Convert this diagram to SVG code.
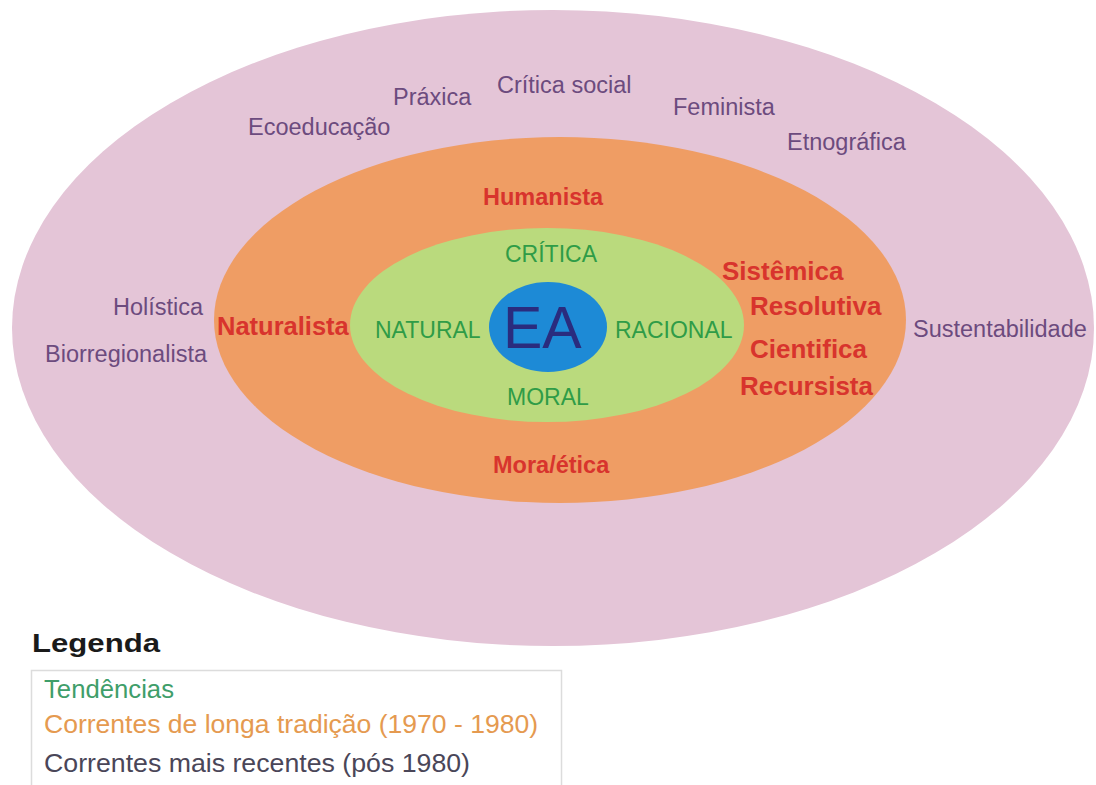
<svg xmlns="http://www.w3.org/2000/svg" width="1096" height="785" viewBox="0 0 1096 785">
  <style>
    text { font-family: "Liberation Sans", Arial, Helvetica, sans-serif; }
    .recent { fill: #6c4b7e; font-size: 23.5px; }
    .long { fill: #d8342d; font-weight: bold; }
    .trend { fill: #2f9c47; font-size: 23px; }
    .core { fill: #2a2c7e; font-size: 59px; }
    .legend-title { fill: #1a1a1a; font-size: 26px; font-weight: bold; }
    .legend-item { font-size: 25px; }
  </style>

  <rect width="1096" height="785" fill="#ffffff"/>

  <!-- concentric rings -->
  <g id="ring-recent">
    <ellipse cx="553" cy="328" rx="541" ry="318" fill="#e4c5d7"/>
  </g>
  <g id="ring-long">
    <ellipse cx="560" cy="320" rx="346" ry="183" fill="#ef9d64"/>
  </g>
  <g id="ring-trends">
    <ellipse cx="547" cy="325" rx="197" ry="97" fill="#bada7d"/>
  </g>
  <g id="node-EA">
    <ellipse cx="548" cy="327" rx="59" ry="45" fill="#1d8ad6"/>
    <text class="core" x="503" y="348">EA</text>
  </g>

  <!-- more recent currents (after 1980) -->
  <g id="recent-labels">
    <text class="recent" x="248" y="135">Ecoeducação</text>
    <text class="recent" x="393" y="105">Práxica</text>
    <text class="recent" x="497" y="93">Crítica social</text>
    <text class="recent" x="673" y="115">Feminista</text>
    <text class="recent" x="787" y="150">Etnográfica</text>
    <text class="recent" x="113" y="315">Holística</text>
    <text class="recent" x="45" y="362">Biorregionalista</text>
    <text class="recent" x="913" y="337">Sustentabilidade</text>
  </g>

  <!-- long-tradition currents (1970 - 1980) -->
  <g id="long-labels">
    <text class="long" x="483" y="205" font-size="23.5">Humanista</text>
    <text class="long" x="217" y="335" font-size="25.5">Naturalista</text>
    <text class="long" x="722" y="280" font-size="26">Sistêmica</text>
    <text class="long" x="750" y="315" font-size="26">Resolutiva</text>
    <text class="long" x="750" y="358" font-size="26">Cientifica</text>
    <text class="long" x="740" y="395" font-size="26">Recursista</text>
    <text class="long" x="493" y="473" font-size="23.5">Mora/ética</text>
  </g>

  <!-- trends -->
  <g id="trend-labels">
    <text class="trend" x="505" y="262">CRÍTICA</text>
    <text class="trend" x="375" y="338">NATURAL</text>
    <text class="trend" x="615" y="338">RACIONAL</text>
    <text class="trend" x="507" y="405">MORAL</text>
  </g>

  <!-- connectors: none in this figure -->
  <g id="connectors"/>

  <!-- legend -->
  <g id="legend">
    <text class="legend-title" x="32" y="652" textLength="128" lengthAdjust="spacingAndGlyphs">Legenda</text>
    <rect x="31.5" y="670.5" width="530" height="130" fill="#ffffff" stroke="#dcdcdc" stroke-width="1.5"/>
    <text class="legend-item" x="44" y="698" fill="#3f9e6a" textLength="130" lengthAdjust="spacingAndGlyphs">Tendências</text>
    <text class="legend-item" x="44" y="733" fill="#e59a50" textLength="494" lengthAdjust="spacingAndGlyphs">Correntes de longa tradição (1970 - 1980)</text>
    <text class="legend-item" x="44" y="772" fill="#4a4658" textLength="426" lengthAdjust="spacingAndGlyphs">Correntes mais recentes (pós 1980)</text>
  </g>
</svg>
